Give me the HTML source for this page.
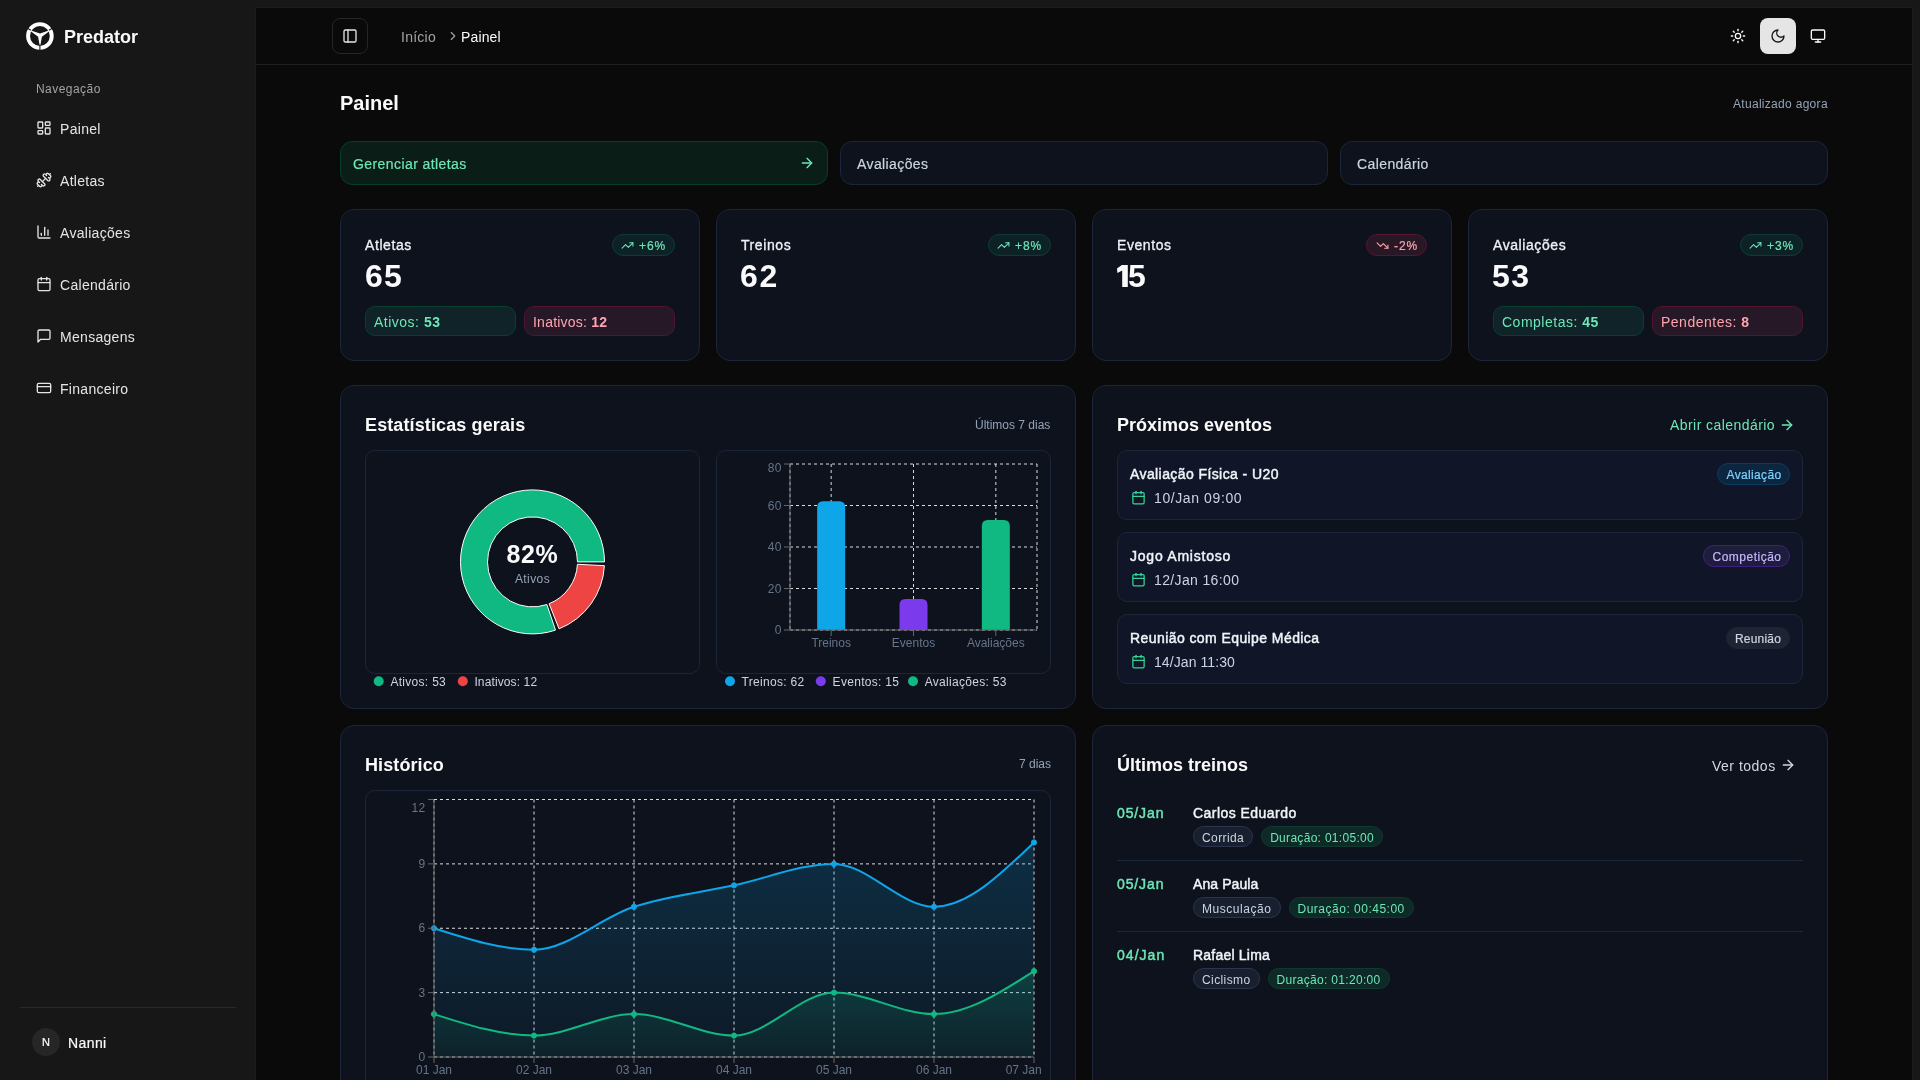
<!DOCTYPE html><html><head><meta charset="utf-8"><title>Predator - Painel</title><style>
html,body{margin:0;padding:0;}
body{width:1920px;height:1080px;overflow:hidden;background:#171717;font-family:"Liberation Sans", sans-serif;position:relative;}
.t{position:absolute;white-space:nowrap;line-height:1;}
body>*{will-change:transform;}
svg{display:block;}
</style></head><body>
<svg style="position:absolute;left:0;top:0" width="64" height="64" viewBox="0 0 64 64">
<circle cx="39.9" cy="36.0" r="11.85" fill="none" stroke="#fff" stroke-width="3.9"/>
<g stroke="#171717" stroke-width="1.1">
<line x1="49.0" y1="30.3" x2="53.6" y2="27.4"/>
<line x1="30.8" y1="30.3" x2="26.2" y2="27.4"/>
<line x1="39.9" y1="46.0" x2="39.9" y2="50.5"/>
</g>
<path fill="#fff" d="M31.0 30.5 L40.0 33.4 L48.8 30.5 L48.9 31.5 L41.9 36.8 L41.2 40.5 L40.5 44.8 L39.5 44.8 L38.8 40.5 L38.1 36.8 L31.1 31.5 Z"/>
</svg>
<div class="t" id="t_logo" style="top:27.86px;font-size:18px;color:#fafafa;font-weight:700;left:64.3px;">Predator</div>
<div class="t" id="t_nav" style="top:82.84px;font-size:12px;color:#a3a3a3;font-weight:400;letter-spacing:0.45px;left:36.2px;">Navegação</div>
<svg style="position:absolute;left:36px;top:120px;" width="16" height="16" viewBox="0 0 24 24" fill="none" stroke="#e5e5e5" stroke-width="2" stroke-linecap="round" stroke-linejoin="round"><rect width="7" height="9" x="3" y="3" rx="1"/><rect width="7" height="5" x="14" y="3" rx="1"/><rect width="7" height="9" x="14" y="12" rx="1"/><rect width="7" height="5" x="3" y="16" rx="1"/></svg>
<div class="t" id="t_nav0" style="top:122.15px;font-size:14px;color:#e5e5e5;font-weight:400;letter-spacing:0.3px;left:60.0px;">Painel</div>
<svg style="position:absolute;left:36px;top:172px;" width="16" height="16" viewBox="0 0 24 24" fill="none" stroke="#e5e5e5" stroke-width="2" stroke-linecap="round" stroke-linejoin="round"><path d="M17.596 12.768a2 2 0 1 0 2.829-2.829l-1.768-1.767a2 2 0 0 0 2.828-2.829l-2.828-2.828a2 2 0 0 0-2.829 2.828l-1.767-1.768a2 2 0 1 0-2.829 2.829z"/><path d="m2.5 21.5 1.4-1.4"/><path d="m20.1 3.9 1.4-1.4"/><path d="M5.343 21.485a2 2 0 1 0 2.829-2.828l1.767 1.768a2 2 0 1 0 2.829-2.829l-6.364-6.364a2 2 0 1 0-2.829 2.829l1.768 1.767a2 2 0 0 0-2.828 2.829z"/><path d="m9.6 14.4 4.8-4.8"/></svg>
<div class="t" id="t_nav1" style="top:174.15px;font-size:14px;color:#e5e5e5;font-weight:400;letter-spacing:0.3px;left:60.0px;">Atletas</div>
<svg style="position:absolute;left:36px;top:224px;" width="16" height="16" viewBox="0 0 24 24" fill="none" stroke="#e5e5e5" stroke-width="2" stroke-linecap="round" stroke-linejoin="round"><path d="M3 3v16a2 2 0 0 0 2 2h16"/><path d="M18 17V9"/><path d="M13 17V5"/><path d="M8 17v-3"/></svg>
<div class="t" id="t_nav2" style="top:226.15px;font-size:14px;color:#e5e5e5;font-weight:400;letter-spacing:0.3px;left:60.0px;">Avaliações</div>
<svg style="position:absolute;left:36px;top:276px;" width="16" height="16" viewBox="0 0 24 24" fill="none" stroke="#e5e5e5" stroke-width="2" stroke-linecap="round" stroke-linejoin="round"><path d="M8 2v4"/><path d="M16 2v4"/><rect width="18" height="18" x="3" y="4" rx="2"/><path d="M3 10h18"/></svg>
<div class="t" id="t_nav3" style="top:278.15px;font-size:14px;color:#e5e5e5;font-weight:400;letter-spacing:0.3px;left:60.0px;">Calendário</div>
<svg style="position:absolute;left:36px;top:328px;" width="16" height="16" viewBox="0 0 24 24" fill="none" stroke="#e5e5e5" stroke-width="2" stroke-linecap="round" stroke-linejoin="round"><path d="M21 15a2 2 0 0 1-2 2H7l-4 4V5a2 2 0 0 1 2-2h14a2 2 0 0 1 2 2z"/></svg>
<div class="t" id="t_nav4" style="top:330.15px;font-size:14px;color:#e5e5e5;font-weight:400;letter-spacing:0.3px;left:60.0px;">Mensagens</div>
<svg style="position:absolute;left:36px;top:380px;" width="16" height="16" viewBox="0 0 24 24" fill="none" stroke="#e5e5e5" stroke-width="2" stroke-linecap="round" stroke-linejoin="round"><rect width="20" height="14" x="2" y="5" rx="2"/><line x1="2" x2="22" y1="10" y2="10"/></svg>
<div class="t" id="t_nav5" style="top:382.15px;font-size:14px;color:#e5e5e5;font-weight:400;letter-spacing:0.3px;left:60.0px;">Financeiro</div>
<div style="position:absolute;left:20px;top:1007px;width:216px;height:1px;box-sizing:border-box;background:#2a2a2a;"></div>
<div style="position:absolute;left:32px;top:1028px;width:28px;height:28px;box-sizing:border-box;background:#262626;border-radius:50%;"></div>
<div class="t" style="top:1036.69px;font-size:11px;color:#fafafa;font-weight:500;-webkit-text-stroke:0.2px currentColor;left:-254px;width:600px;text-align:center;">N</div>
<div class="t" id="t_user" style="top:1036.15px;font-size:14px;color:#fafafa;font-weight:500;letter-spacing:0.4px;-webkit-text-stroke:0.2px currentColor;left:68.4px;">Nanni</div>
<div style="position:absolute;left:256px;top:8px;width:1656px;height:1100px;box-sizing:border-box;background:#0a0a0a;box-shadow:0 0 0 1px #1b1b1b;"></div>
<div style="position:absolute;left:256px;top:64px;width:1656px;height:1px;box-sizing:border-box;background:#1f1f1f;"></div>
<div style="position:absolute;left:332px;top:18px;width:36px;height:36px;box-sizing:border-box;border:1px solid #262626;border-radius:8px;"></div>
<svg style="position:absolute;left:342px;top:28px;" width="16" height="16" viewBox="0 0 24 24" fill="none" stroke="#e5e5e5" stroke-width="2" stroke-linecap="round" stroke-linejoin="round"><rect width="18" height="18" x="3" y="3" rx="2"/><path d="M9 3v18"/></svg>
<div class="t" id="t_inicio" style="top:29.95px;font-size:14px;color:#a3a3a3;font-weight:400;letter-spacing:0.25px;left:401.25px;">Início</div>
<svg style="position:absolute;left:446px;top:29px;" width="14" height="14" viewBox="0 0 24 24" fill="none" stroke="#a3a3a3" stroke-width="2" stroke-linecap="round" stroke-linejoin="round"><path d="m9 18 6-6-6-6"/></svg>
<div class="t" id="t_crumb" style="top:29.95px;font-size:14px;color:#fafafa;font-weight:400;letter-spacing:0.15px;left:460.6px;">Painel</div>
<svg style="position:absolute;left:1730px;top:28px;" width="16" height="16" viewBox="0 0 24 24" fill="none" stroke="#fafafa" stroke-width="2" stroke-linecap="round" stroke-linejoin="round"><circle cx="12" cy="12" r="4"/><path d="M12 2v2"/><path d="M12 20v2"/><path d="m4.93 4.93 1.41 1.41"/><path d="m17.66 17.66 1.41 1.41"/><path d="M2 12h2"/><path d="M20 12h2"/><path d="m6.34 17.66-1.41 1.41"/><path d="m19.07 4.93-1.41 1.41"/></svg>
<div style="position:absolute;left:1760px;top:18px;width:36px;height:36px;box-sizing:border-box;background:#e5e5e5;border-radius:8px;"></div>
<svg style="position:absolute;left:1770px;top:28px;" width="16" height="16" viewBox="0 0 24 24" fill="none" stroke="#171717" stroke-width="2" stroke-linecap="round" stroke-linejoin="round"><path d="M12 3a6 6 0 0 0 9 9 9 9 0 1 1-9-9Z"/></svg>
<svg style="position:absolute;left:1810px;top:28px;" width="16" height="16" viewBox="0 0 24 24" fill="none" stroke="#fafafa" stroke-width="2" stroke-linecap="round" stroke-linejoin="round"><rect width="20" height="14" x="2" y="3" rx="2"/><line x1="8" x2="16" y1="21" y2="21"/><line x1="12" x2="12" y1="17" y2="21"/></svg>
<div class="t" id="t_h1" style="top:93.47px;font-size:20px;color:#fafafa;font-weight:700;left:340.4px;">Painel</div>
<div class="t" id="t_upd" style="top:97.74px;font-size:12px;color:#94a3b8;font-weight:400;letter-spacing:0.3px;right:92px;">Atualizado agora</div>
<div style="position:absolute;left:340px;top:141px;width:488px;height:44px;box-sizing:border-box;background:#0b1d17;border:1px solid #063d2d;border-radius:12px;"></div>
<div class="t" id="t_ger" style="top:156.95px;font-size:14px;color:#6ee7b7;font-weight:500;letter-spacing:0.42px;-webkit-text-stroke:0.2px currentColor;left:353px;">Gerenciar atletas</div>
<svg style="position:absolute;left:798.8px;top:155.2px;" width="16" height="16" viewBox="0 0 24 24" fill="none" stroke="#6ee7b7" stroke-width="2" stroke-linecap="round" stroke-linejoin="round"><path d="M5 12h14"/><path d="m12 5 7 7-7 7"/></svg>
<div style="position:absolute;left:840px;top:141px;width:488px;height:44px;box-sizing:border-box;background:#0e121c;border:1px solid #1b2638;border-radius:12px;"></div>
<div class="t" id="t_qa2" style="top:156.95px;font-size:14px;color:#cbd5e1;font-weight:500;letter-spacing:0.4px;-webkit-text-stroke:0.2px currentColor;left:857.3px;">Avaliações</div>
<div style="position:absolute;left:1340px;top:141px;width:488px;height:44px;box-sizing:border-box;background:#0e121c;border:1px solid #1b2638;border-radius:12px;"></div>
<div class="t" id="t_qa3" style="top:156.95px;font-size:14px;color:#cbd5e1;font-weight:500;letter-spacing:0.4px;-webkit-text-stroke:0.2px currentColor;left:1357.3px;">Calendário</div>
<div style="position:absolute;left:340px;top:209px;width:360px;height:152px;box-sizing:border-box;background:#0e121c;border:1px solid #1b2638;border-radius:14px;"></div>
<div class="t" id="t_st0" style="top:238.25px;font-size:14px;color:#eef2f7;font-weight:400;letter-spacing:0.58px;-webkit-text-stroke:0.32px currentColor;left:365.3px;">Atletas</div>
<div class="t" id="t_sv0" style="top:259.91px;font-size:32px;color:#fafafa;font-weight:700;letter-spacing:1.3px;left:364.6px;">65</div>
<div style="position:absolute;left:612px;top:234px;width:63px;height:22px;box-sizing:border-box;background:#0d2226;border:1px solid #0f3b33;border-radius:999px;"></div>
<svg style="position:absolute;left:621px;top:239px;" width="13" height="13" viewBox="0 0 24 24" fill="none" stroke="#6ee7b7" stroke-width="2" stroke-linecap="round" stroke-linejoin="round"><polyline points="22 7 13.5 15.5 8.5 10.5 2 17"/><polyline points="16 7 22 7 22 13"/></svg>
<div class="t" style="top:240.04px;font-size:12px;color:#6ee7b7;font-weight:500;letter-spacing:0.9px;-webkit-text-stroke:0.2px currentColor;left:639.3px;">+6%</div>
<div style="position:absolute;left:365px;top:306px;width:151px;height:30px;box-sizing:border-box;background:#0f2328;border:1px solid #07402f;border-radius:10px;"></div>
<div class="t" style="top:314.65px;font-size:14px;color:#6ee7b7;font-weight:400;letter-spacing:0.5px;left:373.8px;">Ativos: <b style="font-weight:700">53</b></div>
<div style="position:absolute;left:524px;top:306px;width:151px;height:30px;box-sizing:border-box;background:#261827;border:1px solid #54132f;border-radius:10px;"></div>
<div class="t" style="top:314.65px;font-size:14px;color:#fda4af;font-weight:400;letter-spacing:0.23px;left:532.8px;">Inativos: <b style="font-weight:700">12</b></div>
<div style="position:absolute;left:716px;top:209px;width:360px;height:152px;box-sizing:border-box;background:#0e121c;border:1px solid #1b2638;border-radius:14px;"></div>
<div class="t" id="t_st1" style="top:238.25px;font-size:14px;color:#eef2f7;font-weight:400;letter-spacing:0.58px;-webkit-text-stroke:0.32px currentColor;left:741.3px;">Treinos</div>
<div class="t" id="t_sv1" style="top:259.91px;font-size:32px;color:#fafafa;font-weight:700;letter-spacing:1.7px;left:740.1px;">62</div>
<div style="position:absolute;left:988px;top:234px;width:63px;height:22px;box-sizing:border-box;background:#0d2226;border:1px solid #0f3b33;border-radius:999px;"></div>
<svg style="position:absolute;left:997px;top:239px;" width="13" height="13" viewBox="0 0 24 24" fill="none" stroke="#6ee7b7" stroke-width="2" stroke-linecap="round" stroke-linejoin="round"><polyline points="22 7 13.5 15.5 8.5 10.5 2 17"/><polyline points="16 7 22 7 22 13"/></svg>
<div class="t" style="top:240.04px;font-size:12px;color:#6ee7b7;font-weight:500;letter-spacing:0.9px;-webkit-text-stroke:0.2px currentColor;left:1015.3px;">+8%</div>
<div style="position:absolute;left:1092px;top:209px;width:360px;height:152px;box-sizing:border-box;background:#0e121c;border:1px solid #1b2638;border-radius:14px;"></div>
<div class="t" id="t_st2" style="top:238.25px;font-size:14px;color:#eef2f7;font-weight:400;letter-spacing:0.58px;-webkit-text-stroke:0.32px currentColor;left:1117.3px;">Eventos</div>
<svg style="position:absolute;left:0;top:0" width="1200" height="300"><path fill="#fafafa" d="M1117.0 268.4 L1121.9 265.0 L1127.8 265.0 L1127.8 286.9 L1122.2 286.9 L1122.2 270.4 L1117.4 272.9 Z"/></svg>
<div class="t" id="t_sv2" style="top:259.91px;font-size:32px;color:#fafafa;font-weight:700;left:1128.0px;">5</div>
<div style="position:absolute;left:1366px;top:234px;width:61px;height:22px;box-sizing:border-box;background:#281725;border:1px solid #55162f;border-radius:999px;"></div>
<svg style="position:absolute;left:1375.8px;top:239.3px;" width="13" height="13" viewBox="0 0 24 24" fill="none" stroke="#fda4af" stroke-width="2" stroke-linecap="round" stroke-linejoin="round"><polyline points="22 17 13.5 8.5 8.5 13.5 2 7"/><polyline points="16 17 22 17 22 11"/></svg>
<div class="t" style="top:240.24px;font-size:12px;color:#fda4af;font-weight:500;letter-spacing:0.9px;-webkit-text-stroke:0.2px currentColor;left:1394px;">-2%</div>
<div style="position:absolute;left:1468px;top:209px;width:360px;height:152px;box-sizing:border-box;background:#0e121c;border:1px solid #1b2638;border-radius:14px;"></div>
<div class="t" id="t_st3" style="top:238.25px;font-size:14px;color:#eef2f7;font-weight:400;letter-spacing:0.58px;-webkit-text-stroke:0.32px currentColor;left:1493.3px;">Avaliações</div>
<div class="t" id="t_sv3" style="top:259.91px;font-size:32px;color:#fafafa;font-weight:700;letter-spacing:1.4px;left:1491.8999999999999px;">53</div>
<div style="position:absolute;left:1740px;top:234px;width:63px;height:22px;box-sizing:border-box;background:#0d2226;border:1px solid #0f3b33;border-radius:999px;"></div>
<svg style="position:absolute;left:1749px;top:239px;" width="13" height="13" viewBox="0 0 24 24" fill="none" stroke="#6ee7b7" stroke-width="2" stroke-linecap="round" stroke-linejoin="round"><polyline points="22 7 13.5 15.5 8.5 10.5 2 17"/><polyline points="16 7 22 7 22 13"/></svg>
<div class="t" style="top:240.04px;font-size:12px;color:#6ee7b7;font-weight:500;letter-spacing:0.9px;-webkit-text-stroke:0.2px currentColor;left:1767.3px;">+3%</div>
<div style="position:absolute;left:1493px;top:306px;width:151px;height:30px;box-sizing:border-box;background:#0f2328;border:1px solid #07402f;border-radius:10px;"></div>
<div class="t" style="top:314.65px;font-size:14px;color:#6ee7b7;font-weight:400;letter-spacing:0.5px;left:1501.8px;">Completas: <b style="font-weight:700">45</b></div>
<div style="position:absolute;left:1652px;top:306px;width:151px;height:30px;box-sizing:border-box;background:#261827;border:1px solid #54132f;border-radius:10px;"></div>
<div class="t" style="top:314.65px;font-size:14px;color:#fda4af;font-weight:400;letter-spacing:0.5px;left:1660.8px;">Pendentes: <b style="font-weight:700">8</b></div>
<div style="position:absolute;left:340px;top:385px;width:736px;height:324px;box-sizing:border-box;background:#0e121c;border:1px solid #1b2638;border-radius:14px;"></div>
<div class="t" id="t_est" style="top:415.76px;font-size:18px;color:#fafafa;font-weight:700;letter-spacing:0.12px;left:365.25px;">Estatísticas gerais</div>
<div class="t" id="t_ult7" style="top:418.84px;font-size:12px;color:#94a3b8;font-weight:400;right:869.3px;">Últimos 7 dias</div>
<div style="position:absolute;left:365px;top:450px;width:335px;height:224px;box-sizing:border-box;border:1px solid #1b2638;border-radius:10px;"></div>
<div style="position:absolute;left:716px;top:450px;width:335px;height:224px;box-sizing:border-box;border:1px solid #1b2638;border-radius:10px;"></div>
<div style="position:absolute;left:1092px;top:385px;width:736px;height:324px;box-sizing:border-box;background:#0e121c;border:1px solid #1b2638;border-radius:14px;"></div>
<div class="t" id="t_prox" style="top:416.06px;font-size:18px;color:#fafafa;font-weight:700;left:1117.2px;">Próximos eventos</div>
<div class="t" id="t_abrir" style="top:418.05px;font-size:14px;color:#6ee7b7;font-weight:400;letter-spacing:0.44px;left:1669.7px;">Abrir calendário</div>
<svg style="position:absolute;left:1779.2px;top:417px;" width="16" height="16" viewBox="0 0 24 24" fill="none" stroke="#6ee7b7" stroke-width="2" stroke-linecap="round" stroke-linejoin="round"><path d="M5 12h14"/><path d="m12 5 7 7-7 7"/></svg>
<div style="position:absolute;left:1117px;top:450px;width:686px;height:70px;box-sizing:border-box;background:#101628;border:1px solid #1b2638;border-radius:10px;"></div>
<div class="t" id="t_ev0" style="top:467.45px;font-size:14px;color:#f1f5f9;font-weight:400;letter-spacing:0.41px;-webkit-text-stroke:0.45px currentColor;left:1130.3px;">Avaliação Física - U20</div>
<svg style="position:absolute;left:1131px;top:490px;" width="15" height="15" viewBox="0 0 24 24" fill="none" stroke="#34d399" stroke-width="2" stroke-linecap="round" stroke-linejoin="round"><path d="M8 2v4"/><path d="M16 2v4"/><rect width="18" height="18" x="3" y="4" rx="2"/><path d="M3 10h18"/></svg>
<div class="t" id="t_evd0" style="top:490.65px;font-size:14px;color:#cbd5e1;font-weight:400;letter-spacing:0.6px;left:1154.2px;">10/Jan 09:00</div>
<div style="position:absolute;left:1717px;top:463px;width:73px;height:22px;box-sizing:border-box;background:#0d2640;border:1px solid #0b3c5d;border-radius:999px;"></div>
<div class="t" id="t_evb0" style="top:469.14px;font-size:12px;color:#7dd3fc;font-weight:500;letter-spacing:0.35px;-webkit-text-stroke:0.2px currentColor;left:1453.5px;width:600px;text-align:center;">Avaliação</div>
<div style="position:absolute;left:1117px;top:532px;width:686px;height:70px;box-sizing:border-box;background:#101628;border:1px solid #1b2638;border-radius:10px;"></div>
<div class="t" id="t_ev1" style="top:549.45px;font-size:14px;color:#f1f5f9;font-weight:400;letter-spacing:0.77px;-webkit-text-stroke:0.45px currentColor;left:1130.3px;">Jogo Amistoso</div>
<svg style="position:absolute;left:1131px;top:572px;" width="15" height="15" viewBox="0 0 24 24" fill="none" stroke="#34d399" stroke-width="2" stroke-linecap="round" stroke-linejoin="round"><path d="M8 2v4"/><path d="M16 2v4"/><rect width="18" height="18" x="3" y="4" rx="2"/><path d="M3 10h18"/></svg>
<div class="t" id="t_evd1" style="top:572.65px;font-size:14px;color:#cbd5e1;font-weight:400;letter-spacing:0.36px;left:1154.2px;">12/Jan 16:00</div>
<div style="position:absolute;left:1703px;top:545px;width:87px;height:22px;box-sizing:border-box;background:#1e1d3b;border:1px solid #41207c;border-radius:999px;"></div>
<div class="t" id="t_evb1" style="top:551.14px;font-size:12px;color:#c4b5fd;font-weight:500;letter-spacing:0.5px;-webkit-text-stroke:0.2px currentColor;left:1446.5px;width:600px;text-align:center;">Competição</div>
<div style="position:absolute;left:1117px;top:614px;width:686px;height:70px;box-sizing:border-box;background:#101628;border:1px solid #1b2638;border-radius:10px;"></div>
<div class="t" id="t_ev2" style="top:631.45px;font-size:14px;color:#f1f5f9;font-weight:400;letter-spacing:0.42px;-webkit-text-stroke:0.45px currentColor;left:1130.3px;">Reunião com Equipe Médica</div>
<svg style="position:absolute;left:1131px;top:654px;" width="15" height="15" viewBox="0 0 24 24" fill="none" stroke="#34d399" stroke-width="2" stroke-linecap="round" stroke-linejoin="round"><path d="M8 2v4"/><path d="M16 2v4"/><rect width="18" height="18" x="3" y="4" rx="2"/><path d="M3 10h18"/></svg>
<div class="t" id="t_evd2" style="top:654.65px;font-size:14px;color:#cbd5e1;font-weight:400;letter-spacing:0.08px;left:1154.2px;">14/Jan 11:30</div>
<div style="position:absolute;left:1726px;top:627px;width:64px;height:22px;box-sizing:border-box;background:#1e2433;border:1px solid #1e2433;border-radius:999px;"></div>
<div class="t" id="t_evb2" style="top:633.14px;font-size:12px;color:#cbd5e1;font-weight:500;letter-spacing:0.2px;-webkit-text-stroke:0.2px currentColor;left:1458.0px;width:600px;text-align:center;">Reunião</div>
<div style="position:absolute;left:340px;top:725px;width:736px;height:400px;box-sizing:border-box;background:#0e121c;border:1px solid #1b2638;border-radius:14px;"></div>
<div class="t" id="t_hist" style="top:755.76px;font-size:18px;color:#fafafa;font-weight:700;letter-spacing:0.1px;left:364.6px;">Histórico</div>
<div class="t" style="top:758.34px;font-size:12px;color:#94a3b8;font-weight:400;right:869.3px;">7 dias</div>
<div style="position:absolute;left:365px;top:790px;width:686px;height:400px;box-sizing:border-box;border:1px solid #1b2638;border-radius:10px;"></div>
<div style="position:absolute;left:1092px;top:725px;width:736px;height:400px;box-sizing:border-box;background:#0e121c;border:1px solid #1b2638;border-radius:14px;"></div>
<div class="t" id="t_trein" style="top:755.76px;font-size:18px;color:#fafafa;font-weight:700;left:1116.6px;">Últimos treinos</div>
<div class="t" id="t_ver" style="top:758.75px;font-size:14px;color:#cfd8e3;font-weight:400;letter-spacing:0.5px;left:1711.7px;">Ver todos</div>
<svg style="position:absolute;left:1779.5px;top:757px;" width="16" height="16" viewBox="0 0 24 24" fill="none" stroke="#cfd8e3" stroke-width="2" stroke-linecap="round" stroke-linejoin="round"><path d="M5 12h14"/><path d="m12 5 7 7-7 7"/></svg>
<div class="t" id="t_trd0" style="top:806.35px;font-size:14px;color:#6ee7b7;font-weight:400;letter-spacing:0.88px;-webkit-text-stroke:0.45px currentColor;left:1117.3px;">05/Jan</div>
<div class="t" id="t_trn0" style="top:806.35px;font-size:14px;color:#f1f5f9;font-weight:400;letter-spacing:0.46px;-webkit-text-stroke:0.45px currentColor;left:1193.3px;">Carlos Eduardo</div>
<div style="position:absolute;left:1193px;top:826.1px;height:21px;display:flex;gap:8px;align-items:flex-start;"><span style="box-sizing:border-box;height:21px;padding:1.8px 8px 0 8px;border-radius:999px;background:#182030;border:1px solid #2a3650;color:#cbd5e1;font-size:12px;line-height:19px;letter-spacing:0.4px;">Corrida</span><span style="box-sizing:border-box;height:21px;padding:1.8px 8px 0 8px;border-radius:999px;background:#0d2a26;border:1px solid #0f3a31;color:#6ee7b7;font-size:12px;line-height:19px;letter-spacing:0.3px;">Duração: 01:05:00</span></div>
<div style="position:absolute;left:1117px;top:859.8000000000001px;width:686px;height:1px;box-sizing:border-box;background:#1b2638;"></div>
<div class="t" id="t_trd1" style="top:877.45px;font-size:14px;color:#6ee7b7;font-weight:400;letter-spacing:0.88px;-webkit-text-stroke:0.45px currentColor;left:1117.3px;">05/Jan</div>
<div class="t" id="t_trn1" style="top:877.45px;font-size:14px;color:#f1f5f9;font-weight:400;letter-spacing:0.09px;-webkit-text-stroke:0.45px currentColor;left:1193.3px;">Ana Paula</div>
<div style="position:absolute;left:1193px;top:897.2px;height:21px;display:flex;gap:8px;align-items:flex-start;"><span style="box-sizing:border-box;height:21px;padding:1.8px 8px 0 8px;border-radius:999px;background:#182030;border:1px solid #2a3650;color:#cbd5e1;font-size:12px;line-height:19px;letter-spacing:0.55px;">Musculação</span><span style="box-sizing:border-box;height:21px;padding:1.8px 8px 0 8px;border-radius:999px;background:#0d2a26;border:1px solid #0f3a31;color:#6ee7b7;font-size:12px;line-height:19px;letter-spacing:0.5px;">Duração: 00:45:00</span></div>
<div style="position:absolute;left:1117px;top:930.9px;width:686px;height:1px;box-sizing:border-box;background:#1b2638;"></div>
<div class="t" id="t_trd2" style="top:948.35px;font-size:14px;color:#6ee7b7;font-weight:400;letter-spacing:1.04px;-webkit-text-stroke:0.45px currentColor;left:1117.3px;">04/Jan</div>
<div class="t" id="t_trn2" style="top:948.35px;font-size:14px;color:#f1f5f9;font-weight:400;letter-spacing:0.21px;-webkit-text-stroke:0.45px currentColor;left:1193.3px;">Rafael Lima</div>
<div style="position:absolute;left:1193px;top:968.1px;height:21px;display:flex;gap:8px;align-items:flex-start;"><span style="box-sizing:border-box;height:21px;padding:1.8px 8px 0 8px;border-radius:999px;background:#182030;border:1px solid #2a3650;color:#cbd5e1;font-size:12px;line-height:19px;letter-spacing:0.4px;">Ciclismo</span><span style="box-sizing:border-box;height:21px;padding:1.8px 8px 0 8px;border-radius:999px;background:#0d2a26;border:1px solid #0f3a31;color:#6ee7b7;font-size:12px;line-height:19px;letter-spacing:0.31px;">Duração: 01:20:00</span></div>
<svg style="position:absolute;left:0;top:0" width="1920" height="1080">
<path d="M604.50 561.90 A72 72 0 1 0 555.52 630.12 L546.89 604.54 A45 45 0 1 1 577.50 561.90 Z" fill="#10b981" stroke="#fff" stroke-width="1"/>
<path d="M559.06 628.82 A72 72 0 0 0 604.40 565.67 L577.44 564.26 A45 45 0 0 1 549.10 603.73 Z" fill="#ef4444" stroke="#fff" stroke-width="1"/>
<text x="532.5" y="563" text-anchor="middle" font-family="Liberation Sans, sans-serif" font-size="25" font-weight="700" letter-spacing="0.6" fill="#fafafa">82%</text>
<text x="532.5" y="583.2" text-anchor="middle" font-family="Liberation Sans, sans-serif" font-size="12" letter-spacing="0.4" fill="#94a3b8">Ativos</text>
<circle cx="378.7" cy="681.3" r="5" fill="#10b981"/>
<text x="390.4" y="685.6" font-family="Liberation Sans, sans-serif" font-size="12" letter-spacing="0.3" fill="#cbd5e1">Ativos: 53</text>
<circle cx="462.8" cy="681.3" r="5" fill="#ef4444"/>
<text x="474.4" y="685.6" font-family="Liberation Sans, sans-serif" font-size="12" letter-spacing="0.12" fill="#cbd5e1">Inativos: 12</text>
<line x1="790" x2="1037" y1="630.00" y2="630.00" stroke="rgba(255,255,255,0.85)" stroke-dasharray="3 3"/>
<line x1="790" x2="1037" y1="588.50" y2="588.50" stroke="rgba(255,255,255,0.85)" stroke-dasharray="3 3"/>
<line x1="790" x2="1037" y1="547.00" y2="547.00" stroke="rgba(255,255,255,0.85)" stroke-dasharray="3 3"/>
<line x1="790" x2="1037" y1="505.50" y2="505.50" stroke="rgba(255,255,255,0.85)" stroke-dasharray="3 3"/>
<line x1="790" x2="1037" y1="464.00" y2="464.00" stroke="rgba(255,255,255,0.85)" stroke-dasharray="3 3"/>
<line x1="790.00" x2="790.00" y1="464" y2="630" stroke="rgba(255,255,255,0.85)" stroke-dasharray="3 3"/>
<line x1="831.17" x2="831.17" y1="464" y2="630" stroke="rgba(255,255,255,0.85)" stroke-dasharray="3 3"/>
<line x1="913.50" x2="913.50" y1="464" y2="630" stroke="rgba(255,255,255,0.85)" stroke-dasharray="3 3"/>
<line x1="995.83" x2="995.83" y1="464" y2="630" stroke="rgba(255,255,255,0.85)" stroke-dasharray="3 3"/>
<line x1="1037.00" x2="1037.00" y1="464" y2="630" stroke="rgba(255,255,255,0.85)" stroke-dasharray="3 3"/>
<path d="M817.17 630 V507.35 Q817.17 501.35 823.17 501.35 H839.17 Q845.17 501.35 845.17 507.35 V630 Z" fill="#0ea5e9"/>
<path d="M899.50 630 V604.88 Q899.50 598.88 905.50 598.88 H921.50 Q927.50 598.88 927.50 604.88 V630 Z" fill="#7c3aed"/>
<path d="M981.83 630 V526.02 Q981.83 520.02 987.83 520.02 H1003.83 Q1009.83 520.02 1009.83 526.02 V630 Z" fill="#10b981"/>
<line x1="790" x2="790" y1="464" y2="630" stroke="#666"/>
<line x1="790" x2="1037" y1="630" y2="630" stroke="#666"/>
<line x1="784" x2="790" y1="630.00" y2="630.00" stroke="#666"/>
<text x="781.8" y="634.20" text-anchor="end" font-family="Liberation Sans, sans-serif" font-size="12" letter-spacing="0.3" fill="#64748b">0</text>
<line x1="784" x2="790" y1="588.50" y2="588.50" stroke="#666"/>
<text x="781.8" y="592.70" text-anchor="end" font-family="Liberation Sans, sans-serif" font-size="12" letter-spacing="0.3" fill="#64748b">20</text>
<line x1="784" x2="790" y1="547.00" y2="547.00" stroke="#666"/>
<text x="781.8" y="551.20" text-anchor="end" font-family="Liberation Sans, sans-serif" font-size="12" letter-spacing="0.3" fill="#64748b">40</text>
<line x1="784" x2="790" y1="505.50" y2="505.50" stroke="#666"/>
<text x="781.8" y="509.70" text-anchor="end" font-family="Liberation Sans, sans-serif" font-size="12" letter-spacing="0.3" fill="#64748b">60</text>
<line x1="784" x2="790" y1="464.00" y2="464.00" stroke="#666"/>
<text x="781.8" y="472.00" text-anchor="end" font-family="Liberation Sans, sans-serif" font-size="12" letter-spacing="0.3" fill="#64748b">80</text>
<line x1="831.17" x2="831.17" y1="630" y2="636" stroke="#666"/>
<text x="831.17" y="646.8" text-anchor="middle" font-family="Liberation Sans, sans-serif" font-size="12" fill="#64748b">Treinos</text>
<line x1="913.50" x2="913.50" y1="630" y2="636" stroke="#666"/>
<text x="913.50" y="646.8" text-anchor="middle" font-family="Liberation Sans, sans-serif" font-size="12" fill="#64748b">Eventos</text>
<line x1="995.83" x2="995.83" y1="630" y2="636" stroke="#666"/>
<text x="995.83" y="646.8" text-anchor="middle" font-family="Liberation Sans, sans-serif" font-size="12" fill="#64748b">Avaliações</text>
<circle cx="730" cy="681.3" r="5" fill="#0ea5e9"/>
<text x="741.6" y="685.6" font-family="Liberation Sans, sans-serif" font-size="12" letter-spacing="0.3" fill="#cbd5e1">Treinos: 62</text>
<circle cx="820.8" cy="681.3" r="5" fill="#7c3aed"/>
<text x="832.6" y="685.6" font-family="Liberation Sans, sans-serif" font-size="12" letter-spacing="0.3" fill="#cbd5e1">Eventos: 15</text>
<circle cx="913" cy="681.3" r="5" fill="#10b981"/>
<text x="924.7" y="685.6" font-family="Liberation Sans, sans-serif" font-size="12" letter-spacing="0.3" fill="#cbd5e1">Avaliações: 53</text>
<defs><linearGradient id="gb" x1="0" y1="0" x2="0" y2="1"><stop offset="0" stop-color="#0ea5e9" stop-opacity="0.2"/><stop offset="1" stop-color="#0ea5e9" stop-opacity="0.05"/></linearGradient><linearGradient id="gg" x1="0" y1="0" x2="0" y2="1"><stop offset="0" stop-color="#10b981" stop-opacity="0.2"/><stop offset="1" stop-color="#10b981" stop-opacity="0.05"/></linearGradient></defs>
<line x1="434" x2="1034" y1="1057.00" y2="1057.00" stroke="rgba(255,255,255,0.85)" stroke-dasharray="3 3"/>
<line x1="434" x2="1034" y1="992.62" y2="992.62" stroke="rgba(255,255,255,0.85)" stroke-dasharray="3 3"/>
<line x1="434" x2="1034" y1="928.25" y2="928.25" stroke="rgba(255,255,255,0.85)" stroke-dasharray="3 3"/>
<line x1="434" x2="1034" y1="863.88" y2="863.88" stroke="rgba(255,255,255,0.85)" stroke-dasharray="3 3"/>
<line x1="434" x2="1034" y1="799.50" y2="799.50" stroke="rgba(255,255,255,0.85)" stroke-dasharray="3 3"/>
<line x1="434" x2="434" y1="799.5" y2="1057" stroke="rgba(255,255,255,0.85)" stroke-dasharray="3 3"/>
<line x1="534" x2="534" y1="799.5" y2="1057" stroke="rgba(255,255,255,0.85)" stroke-dasharray="3 3"/>
<line x1="634" x2="634" y1="799.5" y2="1057" stroke="rgba(255,255,255,0.85)" stroke-dasharray="3 3"/>
<line x1="734" x2="734" y1="799.5" y2="1057" stroke="rgba(255,255,255,0.85)" stroke-dasharray="3 3"/>
<line x1="834" x2="834" y1="799.5" y2="1057" stroke="rgba(255,255,255,0.85)" stroke-dasharray="3 3"/>
<line x1="934" x2="934" y1="799.5" y2="1057" stroke="rgba(255,255,255,0.85)" stroke-dasharray="3 3"/>
<line x1="1034" x2="1034" y1="799.5" y2="1057" stroke="rgba(255,255,255,0.85)" stroke-dasharray="3 3"/>
<path d="M434.00 928.25 C467.33 938.98 500.67 949.71 534.00 949.71 C567.33 949.71 600.67 917.52 634.00 906.79 C667.33 896.06 700.67 892.49 734.00 885.33 C767.33 878.18 800.67 863.88 834.00 863.88 C867.33 863.88 900.67 906.79 934.00 906.79 C967.33 906.79 1000.67 874.60 1034.00 842.42 L1034 1057 L434 1057 Z" fill="url(#gb)"/>
<path d="M434.00 928.25 C467.33 938.98 500.67 949.71 534.00 949.71 C567.33 949.71 600.67 917.52 634.00 906.79 C667.33 896.06 700.67 892.49 734.00 885.33 C767.33 878.18 800.67 863.88 834.00 863.88 C867.33 863.88 900.67 906.79 934.00 906.79 C967.33 906.79 1000.67 874.60 1034.00 842.42" fill="none" stroke="#0ea5e9" stroke-width="2"/>
<circle cx="434" cy="928.25" r="2.6" fill="#0ea5e9" stroke="#0ea5e9" stroke-width="1"/>
<circle cx="534" cy="949.71" r="2.6" fill="#0ea5e9" stroke="#0ea5e9" stroke-width="1"/>
<circle cx="634" cy="906.79" r="2.6" fill="#0ea5e9" stroke="#0ea5e9" stroke-width="1"/>
<circle cx="734" cy="885.33" r="2.6" fill="#0ea5e9" stroke="#0ea5e9" stroke-width="1"/>
<circle cx="834" cy="863.88" r="2.6" fill="#0ea5e9" stroke="#0ea5e9" stroke-width="1"/>
<circle cx="934" cy="906.79" r="2.6" fill="#0ea5e9" stroke="#0ea5e9" stroke-width="1"/>
<circle cx="1034" cy="842.42" r="2.6" fill="#0ea5e9" stroke="#0ea5e9" stroke-width="1"/>
<path d="M434.00 1014.08 C467.33 1024.81 500.67 1035.54 534.00 1035.54 C567.33 1035.54 600.67 1014.08 634.00 1014.08 C667.33 1014.08 700.67 1035.54 734.00 1035.54 C767.33 1035.54 800.67 992.62 834.00 992.62 C867.33 992.62 900.67 1014.08 934.00 1014.08 C967.33 1014.08 1000.67 992.62 1034.00 971.17 L1034 1057 L434 1057 Z" fill="url(#gg)"/>
<path d="M434.00 1014.08 C467.33 1024.81 500.67 1035.54 534.00 1035.54 C567.33 1035.54 600.67 1014.08 634.00 1014.08 C667.33 1014.08 700.67 1035.54 734.00 1035.54 C767.33 1035.54 800.67 992.62 834.00 992.62 C867.33 992.62 900.67 1014.08 934.00 1014.08 C967.33 1014.08 1000.67 992.62 1034.00 971.17" fill="none" stroke="#10b981" stroke-width="2"/>
<circle cx="434" cy="1014.08" r="2.6" fill="#10b981" stroke="#10b981" stroke-width="1"/>
<circle cx="534" cy="1035.54" r="2.6" fill="#10b981" stroke="#10b981" stroke-width="1"/>
<circle cx="634" cy="1014.08" r="2.6" fill="#10b981" stroke="#10b981" stroke-width="1"/>
<circle cx="734" cy="1035.54" r="2.6" fill="#10b981" stroke="#10b981" stroke-width="1"/>
<circle cx="834" cy="992.62" r="2.6" fill="#10b981" stroke="#10b981" stroke-width="1"/>
<circle cx="934" cy="1014.08" r="2.6" fill="#10b981" stroke="#10b981" stroke-width="1"/>
<circle cx="1034" cy="971.17" r="2.6" fill="#10b981" stroke="#10b981" stroke-width="1"/>
<line x1="434" x2="434" y1="799.5" y2="1057" stroke="#666"/>
<line x1="434" x2="1034" y1="1057" y2="1057" stroke="#666"/>
<line x1="428" x2="434" y1="1057.00" y2="1057.00" stroke="#666"/>
<text x="425.5" y="1061.20" text-anchor="end" font-family="Liberation Sans, sans-serif" font-size="12" letter-spacing="0.3" fill="#64748b">0</text>
<line x1="428" x2="434" y1="992.62" y2="992.62" stroke="#666"/>
<text x="425.5" y="996.83" text-anchor="end" font-family="Liberation Sans, sans-serif" font-size="12" letter-spacing="0.3" fill="#64748b">3</text>
<line x1="428" x2="434" y1="928.25" y2="928.25" stroke="#666"/>
<text x="425.5" y="932.45" text-anchor="end" font-family="Liberation Sans, sans-serif" font-size="12" letter-spacing="0.3" fill="#64748b">6</text>
<line x1="428" x2="434" y1="863.88" y2="863.88" stroke="#666"/>
<text x="425.5" y="868.08" text-anchor="end" font-family="Liberation Sans, sans-serif" font-size="12" letter-spacing="0.3" fill="#64748b">9</text>
<line x1="428" x2="434" y1="799.50" y2="799.50" stroke="#666"/>
<text x="425.5" y="811.70" text-anchor="end" font-family="Liberation Sans, sans-serif" font-size="12" letter-spacing="0.3" fill="#64748b">12</text>
<line x1="434" x2="434" y1="1057" y2="1063" stroke="#666"/>
<text x="434" y="1074.3" text-anchor="middle" font-family="Liberation Sans, sans-serif" font-size="12" fill="#64748b">01 Jan</text>
<line x1="534" x2="534" y1="1057" y2="1063" stroke="#666"/>
<text x="534" y="1074.3" text-anchor="middle" font-family="Liberation Sans, sans-serif" font-size="12" fill="#64748b">02 Jan</text>
<line x1="634" x2="634" y1="1057" y2="1063" stroke="#666"/>
<text x="634" y="1074.3" text-anchor="middle" font-family="Liberation Sans, sans-serif" font-size="12" fill="#64748b">03 Jan</text>
<line x1="734" x2="734" y1="1057" y2="1063" stroke="#666"/>
<text x="734" y="1074.3" text-anchor="middle" font-family="Liberation Sans, sans-serif" font-size="12" fill="#64748b">04 Jan</text>
<line x1="834" x2="834" y1="1057" y2="1063" stroke="#666"/>
<text x="834" y="1074.3" text-anchor="middle" font-family="Liberation Sans, sans-serif" font-size="12" fill="#64748b">05 Jan</text>
<line x1="934" x2="934" y1="1057" y2="1063" stroke="#666"/>
<text x="934" y="1074.3" text-anchor="middle" font-family="Liberation Sans, sans-serif" font-size="12" fill="#64748b">06 Jan</text>
<line x1="1034" x2="1034" y1="1057" y2="1063" stroke="#666"/>
<text x="1041.7" y="1074.3" text-anchor="end" font-family="Liberation Sans, sans-serif" font-size="12" fill="#64748b">07 Jan</text>
</svg>
</body></html>
